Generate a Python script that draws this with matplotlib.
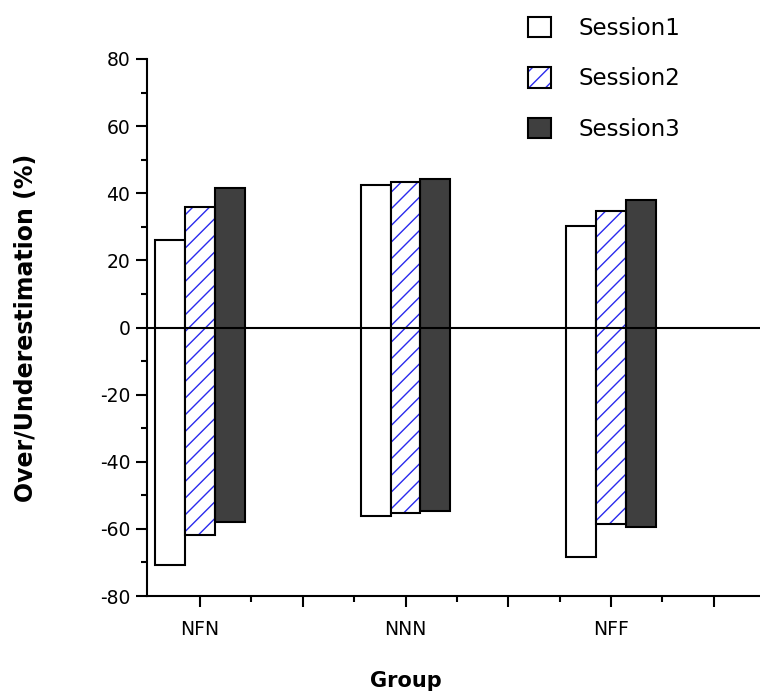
import numpy as np
import matplotlib
matplotlib.use("Agg")
import matplotlib.pyplot as plt
from matplotlib.patches import Patch

groups = ["NFN", "NNN", "NFF"]
sessions = ["Session1", "Session2", "Session3"]
# upper (over) and lower (under) ends of each bar, in %
over = {
    "Session1": [26.2, 42.4, 30.2],
    "Session2": [36.0, 43.4, 34.7],
    "Session3": [41.7, 44.2, 37.9],
}
under = {
    "Session1": [-70.7, -56.1, -68.4],
    "Session2": [-61.8, -55.3, -58.6],
    "Session3": [-57.9, -54.8, -59.3],
}

plt.rcParams["font.family"] = ["DejaVu Sans"]
plt.rcParams["hatch.linewidth"] = 1.0
plt.rcParams["axes.unicode_minus"] = False

fig = plt.figure(figsize=(7.6, 6.96), dpi=100)
ax = fig.add_axes([147 / 760, 1 - 596 / 696, 1 - 147 / 760, (596 - 59) / 696])

x = np.arange(len(groups))
w = 0.145
offs = [-w, 0, w]
blue = "#2a2aee"

for s, o in zip(sessions, offs):
    lo = np.array(under[s])
    hi = np.array(over[s])
    if s == "Session1":
        ax.bar(x + o, hi - lo, w, bottom=lo, color="white", edgecolor="black", linewidth=1.5, zorder=2)
    elif s == "Session2":
        ax.bar(x + o, hi - lo, w, bottom=lo, color="white", edgecolor=blue, hatch="//", linewidth=0, zorder=2)
        ax.bar(x + o, hi - lo, w, bottom=lo, color="none", edgecolor="black", linewidth=1.5, zorder=3)
    else:
        ax.bar(x + o, hi - lo, w, bottom=lo, color="#3f3f3f", edgecolor="black", linewidth=1.5, zorder=2)

ax.axhline(0, color="black", linewidth=1.5, zorder=4)

ax.set_xlim(-0.258, 2.725)
ax.set_ylim(-80, 80)

ax.set_xticks(np.arange(0, 2.6, 0.5))
ax.set_xticklabels(["NFN", "", "NNN", "", "NFF", ""])
ax.set_xticks(np.arange(0.25, 2.5, 0.5), minor=True)
ax.set_yticks(np.arange(-80, 81, 20))
ax.set_yticks(np.arange(-70, 80, 20), minor=True)

for sp in ["top", "right"]:
    ax.spines[sp].set_visible(False)
for sp in ["left", "bottom"]:
    ax.spines[sp].set_linewidth(1.5)

ax.tick_params(which="major", length=8, width=1.5, labelsize=13.5, pad=4)
ax.tick_params(which="minor", length=4, width=1.5)
ax.tick_params(axis="x", pad=9)

ax.set_xlabel("Group", fontsize=15, fontweight="bold")
ax.xaxis.set_label_coords((1 + 0.258) / (2.725 + 0.258), -0.14)
ax.set_ylabel("Over/Underestimation (%)", fontsize=17, fontweight="bold")
ax.yaxis.set_label_coords(-0.178, 0.5)

handles = [
    Patch(facecolor="white", edgecolor="black", linewidth=1.5),
    (Patch(facecolor="white", edgecolor=blue, hatch="//", linewidth=0),
     Patch(facecolor="none", edgecolor="black", linewidth=1.5)),
    Patch(facecolor="#3f3f3f", edgecolor="black", linewidth=1.5),
]
leg = fig.legend(handles, sessions, loc="upper left", bbox_to_anchor=(507 / 760, 1 + 4 / 696),
                 frameon=False, fontsize=16.5, handlelength=1.0, handleheight=1.0,
                 handletextpad=1.2, labelspacing=1.2)

fig.savefig("out.png", dpi=100)
